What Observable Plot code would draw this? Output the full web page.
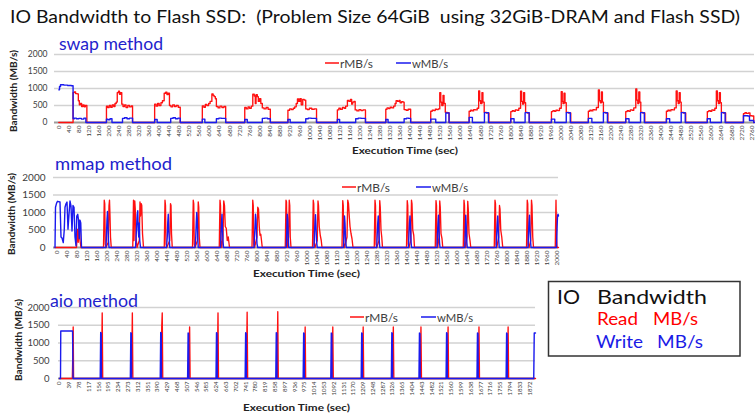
<!DOCTYPE html>
<html><head><meta charset="utf-8">
<script src="https://cdn.jsdelivr.net/npm/d3@7"></script>
<script src="https://cdn.jsdelivr.net/npm/@observablehq/plot@0.6"></script>
<style>
html,body{margin:0;padding:0;background:#fff;}
#wrap{position:relative;width:755px;height:415px;overflow:hidden;font-family:Lato, sans-serif;}
#wrap > svg{position:absolute;left:0;}
</style></head><body><div id="wrap"></div>
<script>
// ---------- DATA (time in sec, MB/s) ----------
const yTicks = [0, 500, 1000, 1500, 2000];

const swapTicks = [0,40,80,120,160,200,240,280,320,360,400,440,480,520,560,600,640,680,720,760,800,840,880,920,960,1000,1040,1080,1120,1160,1200,1240,1280,1320,1360,1400,1440,1480,1520,1560,1600,1640,1680,1720,1760,1800,1840,1880,1920,1960,2000,2040,2080,2120,2160,2200,2240,2280,2320,2360,2400,2440,2480,2520,2560,2600,2640,2680,2720,2760];
const mmapTicks = [0,40,80,120,160,200,240,280,320,360,400,440,480,520,560,600,640,680,720,760,800,840,880,920,960,1000,1040,1080,1120,1160,1200,1240,1280,1320,1360,1400,1440,1480,1520,1560,1600,1640,1680,1720,1760,1800,1840,1880,1920,1960,2000];
const aioTicks = [0,39,78,117,156,195,234,273,312,351,390,429,468,507,546,585,624,663,702,741,780,819,858,897,936,975,1014,1053,1092,1131,1170,1209,1248,1287,1326,1365,1404,1443,1482,1521,1560,1599,1638,1677,1716,1755,1794,1833,1872];

const swapRead = [
 [0,0],
 [57,880],[62,900],[67,850],[74,840],[78,640],[82,520],[86,560],[91,470],[96,520],[101,460],[106,500],[112,0],
 [190,480],[195,440],[201,500],[207,450],[213,520],[219,470],[224,560],[229,600],[233,880],[238,920],[242,830],[246,880],[251,540],[256,470],[262,520],[268,440],[275,500],[282,460],[289,490],[294,0],
 [382,540],[388,480],[394,560],[400,500],[407,580],[413,640],[420,860],[426,890],[431,820],[436,860],[441,500],[447,460],[454,520],[461,470],[468,500],[476,450],[484,0],
 [572,490],[578,450],[584,530],[590,500],[597,560],[603,620],[610,840],[615,800],[619,760],[624,700],[628,470],[635,430],[642,480],[650,440],[658,470],[665,0],
 [741,440],[747,400],[754,460],[760,420],[767,480],[773,830],[779,780],[783,560],[786,820],[791,760],[795,620],[800,700],[805,560],[811,430],[818,400],[826,440],[834,390],[843,0],
 [913,360],[920,400],[927,380],[934,420],[940,460],[946,560],[951,690],[956,620],[961,700],[966,520],[972,680],[978,660],[984,400],[990,380],[998,420],[1008,390],[1018,400],[1027,0],
 [1110,370],[1116,420],[1122,390],[1130,440],[1137,420],[1143,480],[1150,650],[1156,620],[1162,680],[1167,540],[1171,600],[1176,620],[1181,370],[1188,340],[1196,380],[1204,350],[1212,370],[1222,0],
 [1303,390],[1308,430],[1314,410],[1320,450],[1327,430],[1334,480],[1340,560],[1344,640],[1350,620],[1356,650],[1360,580],[1366,610],[1372,600],[1376,380],[1384,360],[1392,390],[1402,0],
 [1482,330],[1488,360],[1494,350],[1500,390],[1506,380],[1512,400],[1518,880],[1522,600],[1526,500],[1531,800],[1535,560],[1540,300],[1548,290],[1555,0],
 [1635,330],[1641,360],[1647,340],[1653,380],[1660,370],[1667,420],[1673,930],[1677,640],[1681,560],[1686,880],[1690,600],[1695,300],[1704,280],[1714,0],
 [1801,320],[1807,350],[1813,330],[1819,370],[1826,360],[1833,420],[1840,920],[1844,620],[1848,540],[1852,880],[1856,580],[1860,300],[1867,280],[1875,0],
 [1963,320],[1969,350],[1975,330],[1981,360],[1988,350],[1995,420],[2002,910],[2006,620],[2009,560],[2013,860],[2017,580],[2022,300],[2031,280],[2040,0],
 [2110,330],[2116,360],[2122,340],[2128,380],[2135,370],[2142,440],[2150,960],[2154,640],[2158,580],[2162,900],[2166,600],[2170,300],[2179,280],[2188,0],
 [2259,320],[2265,350],[2271,330],[2277,370],[2284,360],[2291,430],[2299,990],[2303,660],[2307,560],[2311,900],[2315,600],[2319,300],[2327,280],[2335,0],
 [2421,330],[2427,360],[2433,340],[2439,380],[2446,370],[2453,430],[2460,930],[2464,640],[2468,560],[2472,880],[2476,600],[2480,300],[2489,280],[2498,0],
 [2584,320],[2590,350],[2596,330],[2602,370],[2608,360],[2614,420],[2620,930],[2624,640],[2628,560],[2632,880],[2636,580],[2640,300],[2648,280],[2657,0],
 [2728,260],[2734,290],[2740,270],[2748,280],[2754,200],[2762,190],[2769,0],[2772,0]
];
const swapWrite = [
 [0,960],[3,1060],[7,1110],[20,1100],[35,1090],[50,1080],[57,110],[62,130],[70,110],[80,120],[90,100],[100,130],[108,0],
 [190,100],[196,80],[204,110],[212,0],[254,120],[262,140],[272,110],[282,130],[294,0],
 [382,90],[392,0],[446,120],[455,140],[465,110],[475,130],[484,0],
 [572,100],[582,0],[628,110],[638,130],[648,120],[665,0],
 [741,90],[751,0],[811,120],[820,130],[832,110],[843,0],
 [913,90],[922,0],[984,110],[994,130],[1006,120],[1027,0],
 [1110,90],[1119,0],[1183,110],[1193,130],[1205,120],[1222,0],
 [1303,90],[1312,0],[1376,110],[1386,130],[1394,120],[1402,0],
 [1482,100],[1502,0],[1542,280],[1555,0],
 [1635,150],[1648,0],[1696,290],[1712,0],
 [1801,110],[1814,0],[1858,290],[1874,0],
 [1963,100],[1976,0],[2022,290],[2038,0],
 [2110,120],[2124,0],[2170,290],[2186,0],
 [2259,110],[2272,0],[2318,290],[2333,0],
 [2421,110],[2434,0],[2480,290],[2496,0],
 [2584,110],[2596,0],[2640,290],[2655,0],
 [2728,200],[2745,190],[2752,60],[2769,0],[2772,0]
];

const mmapRead = [
 [-8,0],[78,0],[82,520],[85,150],[89,780],[92,200],[96,0],
 [186,0],[189,1350],[191,1250],[193,100],[196,0],[205,150],[208,1200],[210,1350],[212,900],[214,300],[217,0],
 [303,0],[306,1350],[308,200],[311,1330],[313,1100],[316,300],[320,0],[329,200],[332,1300],[334,900],[337,1250],[339,1200],[342,400],[346,0],
 [429,0],[432,1350],[434,1200],[436,100],[439,0],[451,200],[454,1250],[456,1200],[458,400],[461,0],
 [542,0],[545,1350],[547,1250],[549,100],[552,0],[562,200],[565,1300],[567,1150],[569,300],[572,0],
 [649,0],[652,1350],[654,1200],[656,200],[659,0],[664,300],[667,1330],[670,1200],[673,600],[677,550],[681,200],[685,300],[690,0],
 [780,0],[783,1350],[785,1200],[787,100],[790,0],[800,300],[803,1150],[806,1100],[809,600],[812,350],[815,380],[818,200],[821,0],
 [913,0],[916,1350],[918,1300],[920,200],[923,0],[926,300],[929,1350],[931,1200],[933,300],[936,0],
 [1022,0],[1025,1350],[1027,1250],[1029,100],[1032,0],[1041,200],[1044,1330],[1046,1200],[1049,600],[1053,350],[1057,200],[1060,0],
 [1140,0],[1143,1340],[1145,1200],[1147,100],[1150,0],[1160,300],[1163,1350],[1166,1250],[1169,900],[1172,600],[1176,400],[1180,250],[1184,0],
 [1269,0],[1272,1350],[1274,1200],[1276,100],[1279,0],[1288,200],[1291,1340],[1293,1150],[1296,500],[1299,300],[1302,0],
 [1398,0],[1401,1340],[1403,1200],[1405,100],[1408,0],[1415,200],[1418,1350],[1420,1250],[1423,500],[1427,350],[1430,0],
 [1513,0],[1516,1340],[1518,1200],[1520,100],[1523,0],[1528,300],[1531,1330],[1533,1150],[1536,400],[1540,250],[1543,0],
 [1625,0],[1628,1350],[1630,1200],[1632,100],[1635,0],[1640,300],[1643,1320],[1645,1100],[1648,400],[1652,200],[1655,0],
 [1749,0],[1752,1350],[1754,1250],[1756,100],[1759,0],[1767,300],[1770,1200],[1772,1100],[1775,500],[1779,300],[1783,0],
 [1878,0],[1881,1350],[1883,1250],[1885,100],[1888,0],[1895,200],[1898,1350],[1900,1200],[1903,300],[1906,0],
 [1993,0],[1996,1350],[1998,300],[2000,0],[2006,0]
];
const mmapWrite = [
 [-8,0],[-6,1150],[-2,1260],[2,1320],[12,1300],[16,300],[20,270],[25,140],[29,500],[32,1150],[36,1250],[40,1300],[44,520],[48,950],[52,1330],[56,1180],[60,470],[64,1200],[68,1150],[72,300],[76,50],[79,900],[83,950],[86,780],[89,250],[92,780],[95,700],[98,0],
 [196,0],[198,400],[200,800],[202,1030],[204,600],[206,200],[208,0],
 [314,0],[317,400],[319,700],[321,950],[323,1050],[325,500],[327,300],[329,700],[331,200],[334,0],
 [438,0],[441,300],[443,700],[445,950],[447,500],[449,250],[451,0],
 [552,0],[555,300],[557,700],[559,1000],[561,800],[563,300],[565,0],
 [654,0],[656,400],[658,700],[660,950],[662,500],[664,200],[666,0],
 [788,0],[790,300],[792,600],[794,950],[796,800],[798,400],[800,100],[803,0],
 [917,0],[919,400],[921,950],[923,800],[925,300],[927,0],
 [1028,0],[1030,400],[1032,700],[1034,940],[1036,600],[1038,200],[1041,0],
 [1146,0],[1148,400],[1150,900],[1152,700],[1154,300],[1157,0],
 [1279,0],[1281,400],[1283,700],[1285,900],[1287,500],[1289,200],[1291,0],
 [1406,0],[1408,400],[1410,700],[1412,900],[1414,600],[1416,200],[1418,0],
 [1520,0],[1522,400],[1524,700],[1526,920],[1528,500],[1530,150],[1532,0],
 [1631,0],[1633,400],[1635,920],[1637,600],[1639,200],[1641,0],
 [1757,0],[1759,400],[1761,700],[1763,900],[1765,500],[1767,200],[1769,0],
 [1884,0],[1886,400],[1888,700],[1890,920],[1892,500],[1894,200],[1896,0],
 [1998,0],[2000,500],[2002,900],[2004,950],[2006,900]
];

const aioRead = [
 [0,0],[51,0],[53,700],[54.5,1450],[56,0],
 [166,0],[168,650],[170,1850],[172,0],
 [286,0],[288,650],[290,1850],[292,0],
 [405,0],[407,1450],[409,1850],[411,0],
 [514,0],[516,650],[518,1450],[520,0],
 [627,0],[629,650],[631,1850],[633,0],
 [743,0],[745,700],[747,1870],[749,0],
 [865,0],[867,650],[869,1880],[871,0],
 [974,0],[976,650],[978,1450],[980,0],
 [1084,0],[1086,650],[1088,1450],[1090,0],
 [1205,0],[1207,650],[1209,1450],[1211,0],
 [1325,0],[1327,650],[1329,1450],[1331,0],
 [1435,0],[1437,650],[1439,1450],[1441,0],
 [1543,0],[1545,650],[1547,1450],[1549,0],
 [1666,0],[1668,650],[1670,1450],[1672,0],
 [1782,0],[1784,650],[1786,1450],[1788,0],
 [1895,0]
];
const aioWrite = [
 [0,0],[4,0],[5,1340],[52,1340],[54,0],
 [162,0],[164,1300],[166,1280],[167,0],
 [282,0],[284,1290],[286,1270],[287,0],
 [401,0],[403,1300],[405,1280],[406,0],
 [510,0],[512,1280],[514,1270],[515,0],
 [623,0],[625,1290],[627,1270],[628,0],
 [739,0],[741,1290],[743,1270],[744,0],
 [861,0],[863,1290],[865,1270],[866,0],
 [970,0],[972,1280],[974,1270],[975,0],
 [1080,0],[1082,1280],[1084,1260],[1085,0],
 [1201,0],[1203,1280],[1205,1270],[1206,0],
 [1321,0],[1323,1290],[1325,1270],[1326,0],
 [1431,0],[1433,1280],[1435,1260],[1436,0],
 [1539,0],[1541,1290],[1543,1270],[1544,0],
 [1662,0],[1664,1280],[1666,1270],[1667,0],
 [1778,0],[1780,1280],[1782,1260],[1783,0],
 [1888,0],[1890,1280],[1895,1280]
];

// ---------- DRAW ----------
const RED = "#ff1010", BLUE = "#1a1aee", TXT = "#404040";
const wrap = document.getElementById("wrap");

function panel(o) {
  const chart = Plot.plot({
    width: 755, height: o.mt + o.ph + o.mb,
    marginTop: o.mt, marginBottom: o.mb, marginLeft: o.ml, marginRight: o.mr,
    x: {type: "linear", domain: o.domain},
    y: {type: "linear", domain: [0, 2000]},
    style: {fontFamily: "Lato, sans-serif", color: TXT, background: "transparent"},
    marks: [
      Plot.ruleY(yTicks.slice(1), {stroke: "#d2d2d2", strokeWidth: 1.4}),
      Plot.ruleY([0], {stroke: "#9c9c9c", strokeWidth: 2.2}),
      Plot.line(o.read, {x: d => d[0], y: d => d[1], stroke: RED, strokeWidth: 1.35, curve: o.curve}),
      Plot.line(o.write, {x: d => d[0], y: d => d[1], stroke: BLUE, strokeWidth: 1.4, curve: o.curve}),
      Plot.axisY({ticks: yTicks, tickSize: 0, tickPadding: o.yPad, fontSize: o.yFont, label: null, tickFormat: d => String(d)}),
      Plot.axisX({ticks: o.ticks, tickSize: 0, tickPadding: 3, tickRotate: -90, fontSize: o.xFont, label: null, tickFormat: d => String(d)})
    ]
  });
  chart.style.top = o.top + "px";
  wrap.appendChild(chart);
}

panel({read: swapRead, write: swapWrite, ticks: swapTicks, domain: [-17, 2772], curve: "step-after",
       top: 44, mt: 10, ph: 68, mb: 24, ml: 54, mr: 1, yPad: 7, yFont: 8.5, xFont: 6.5});
panel({read: mmapRead, write: mmapWrite, ticks: mmapTicks, domain: [-14, 2006], curve: "linear",
       top: 167, mt: 10, ph: 70, mb: 24, ml: 53, mr: 197, yPad: 8, yFont: 10, xFont: 6.5});
panel({read: aioRead, write: aioWrite, ticks: aioTicks, domain: [-4, 1895], curve: "linear",
       top: 297, mt: 10, ph: 71, mb: 24, ml: 58, mr: 220, yPad: 9, yFont: 9.5, xFont: 6});

// ---------- overlay texts ----------
function t(x, y, s, o = {}) {
  const size = o.size || 11, fill = o.fill || TXT, w = o.weight || "normal";
  const len = o.len ? ` textLength="${o.len}" lengthAdjust="spacingAndGlyphs"` : "";
  const tr = o.rot ? ` transform="rotate(${o.rot} ${x} ${y})"` : "";
  const anchor = o.anchor || "start";
  return `<text x="${x}" y="${y}" font-size="${size}" font-weight="${w}" fill="${fill}" text-anchor="${anchor}" dominant-baseline="central"${len}${tr}>${s}</text>`;
}
function legend(x1, x3, y) {
  return `<line x1="${x1}" x2="${x1 + 14}" y1="${y}" y2="${y}" stroke="${RED}" stroke-width="1.5"/>` +
         t(x1 + 15, y, "rMB/s", {size: 11.5, len: 33}) +
         `<line x1="${x3}" x2="${x3 + 15}" y1="${y}" y2="${y}" stroke="${BLUE}" stroke-width="1.5"/>` +
         t(x3 + 16, y, "wMB/s", {size: 11.5, len: 36});
}
let s = "";
s += t(10, 16, "IO Bandwidth to Flash SSD:&#160;&#160;(Problem Size 64GiB&#160;&#160;using 32GiB-DRAM and Flash SSD)", {size: 17, fill: "#111", len: 730});
s += t(59, 43, "swap method", {size: 17, fill: "#2222cc", len: 104});
s += t(55, 163, "mmap method", {size: 18, fill: "#2222cc", len: 117});
s += t(50, 300, "aio method", {size: 17, fill: "#2222cc", len: 88});
// y titles (rotated)
s += t(13, 50, "Bandwidth (MB/s)", {size: 9.5, weight: "bold", rot: -90, anchor: "start", fill: "#222", len: 82}).replace('y="50"', 'y="50"');
s = s.replace(/<text x="13" y="50"([^>]*)transform="rotate\(-90 13 50\)"/, '<text x="13" y="50"$1transform="rotate(-90 13 50)"');
// (rebuild y titles cleanly with explicit start points)
s = s.replace(/<text x="13" y="50"[^]*?<\/text>/, "");
function yTitle(cx, cy) {
  const x0 = cx, y0 = cy + 41; // start at bottom, reading upward
  return `<text x="${x0}" y="${y0}" font-size="9.5" font-weight="bold" fill="#222" dominant-baseline="central" textLength="82" lengthAdjust="spacingAndGlyphs" transform="rotate(-90 ${x0} ${y0})">Bandwidth (MB/s)</text>`;
}
s += yTitle(13, 91);
s += yTitle(11, 214);
s += yTitle(18, 340);
// x titles
s += t(352, 150, "Execution Time (sec)", {size: 10, weight: "bold", len: 106, fill: "#222"});
s += t(253, 273, "Execution Time (sec)", {size: 10, weight: "bold", len: 107, fill: "#222"});
s += t(243, 407, "Execution Time (sec)", {size: 10, weight: "bold", len: 107, fill: "#222"});
// in-panel legends
s += legend(325, 396, 63);
s += legend(342, 416, 187);
s += legend(350, 421, 317);
// IO Bandwidth box
s += `<rect x="548.5" y="281.5" width="191.5" height="74.5" fill="#fff" stroke="#333" stroke-width="1.5"/>`;
s += t(557, 296, "IO", {size: 19, fill: "#111", len: 23});
s += t(597, 296, "Bandwidth", {size: 19, fill: "#111", len: 110});
s += t(597, 319, "Read", {size: 16.5, fill: "#ff0000", len: 41});
s += t(653, 319, "MB/s", {size: 16.5, fill: "#ff0000", len: 45});
s += t(596, 342, "Write", {size: 16.5, fill: "#1a1ae6", len: 47});
s += t(657, 342, "MB/s", {size: 16.5, fill: "#1a1ae6", len: 46});

const ov = document.createElementNS("http://www.w3.org/2000/svg", "svg");
ov.setAttribute("width", 755); ov.setAttribute("height", 415);
ov.setAttribute("style", "position:absolute;left:0;top:0;font-family:Lato, sans-serif;");
ov.innerHTML = s;
wrap.appendChild(ov);
</script>
</body></html>
